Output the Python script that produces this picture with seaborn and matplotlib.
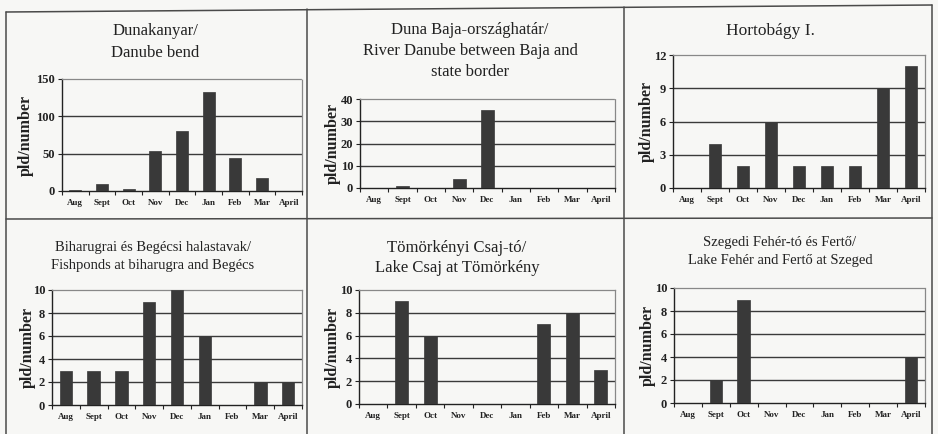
import matplotlib
matplotlib.use("Agg")
import matplotlib.pyplot as plt
from matplotlib.lines import Line2D
from matplotlib.ticker import FixedLocator, NullFormatter
import seaborn as sns
import pandas as pd

months = ["Aug", "Sept", "Oct", "Nov", "Dec", "Jan", "Feb", "Mar", "April"]

dunakanyar = [2, 10, 3, 54, 81, 132, 44, 17, 0]
duna_baja = [0, 1, 0, 4, 35, 0, 0, 0, 0]
hortobagy = [0, 4, 2, 6, 2, 2, 2, 9, 11]
biharugra = [3, 3, 3, 9, 10, 6, 0, 2, 2]
tomorkeny = [0, 9, 6, 0, 0, 0, 7, 8, 3]
szeged = [0, 2, 9, 0, 0, 0, 0, 0, 4]

titles = [
    "Dunakanyar/\nDanube bend",
    "Duna Baja-országhatár/\nRiver Danube between Baja and\nstate border",
    "Hortobágy I.",
    "Biharugrai és Begécsi halastavak/\nFishponds at biharugra and Begécs",
    "Tömörkényi Csaj-tó/\nLake Csaj at Tömörkény",
    "Szegedi Fehér-tó és Fertő/\nLake Fehér and Fertő at Szeged",
]
series = [dunakanyar, duna_baja, hortobagy, biharugra, tomorkeny, szeged]
y_ticks = [
    [0, 50, 100, 150],
    [0, 10, 20, 30, 40],
    [0, 3, 6, 9, 12],
    [0, 2, 4, 6, 8, 10],
    [0, 2, 4, 6, 8, 10],
    [0, 2, 4, 6, 8, 10],
]

sns.set_theme(style="white")
plt.rcParams["font.family"] = ["Liberation Serif", "DejaVu Serif"]

W, H = 938, 434
paper = "#f7f7f5"
fig = plt.figure(figsize=(W / 100, H / 100), dpi=100, facecolor=paper)

# axes boxes in pixels: left, top, right, bottom
boxes = [
    (62, 79, 302, 191),
    (360, 99, 615, 188),
    (673, 55, 925, 188),
    (52, 290, 302, 405),
    (359, 290, 615, 404),
    (674, 288, 925, 403),
]
# title anchor (center x, top y), font size, line spacing
title_pos = [
    (155, 23, 12, 1.5),
    (470, 22, 12, 1.4),
    (770, 23, 12.5, 1.4),
    (153, 241, 10.5, 1.45),
    (457, 240, 12, 1.35),
    (780, 236, 10.5, 1.5),
]
ylabel_x = [26, 333, 647, 28, 333, 648]

bar_color = "#393939"
grid_color = "#3a3a3a"

for i, (vals, ttl, yt) in enumerate(zip(series, titles, y_ticks)):
    l, t, r, b = boxes[i]
    ax = fig.add_axes([l / W, 1 - b / H, (r - l) / W, (b - t) / H])
    ax.set_facecolor(paper)
    df = pd.DataFrame({"month": months, "count": vals})
    sns.barplot(data=df, x="month", y="count", order=months, color=bar_color,
                width=0.45, saturation=1, edgecolor=bar_color, linewidth=0.5,
                ax=ax, zorder=3)
    ax.set_xlim(-0.5, len(months) - 0.5)
    ax.set_ylim(yt[0], yt[-1])
    ax.set_yticks(yt)
    ax.set_yticklabels([str(v) for v in yt], fontsize=9, fontweight="bold",
                       color="#222222")
    ax.set_xticks(range(len(months)))
    ax.set_xticklabels(months, fontsize=6.5, fontweight="bold", color="#222222")
    ax.xaxis.set_minor_locator(FixedLocator([k - 0.5 for k in range(len(months) + 1)]))
    ax.xaxis.set_minor_formatter(NullFormatter())
    ax.tick_params(axis="x", which="major", length=0, pad=6)
    ax.tick_params(axis="x", which="minor", length=3, width=0.8, color="#222222",
                   direction="out", bottom=True)
    ax.tick_params(axis="y", length=3, width=0.8, color="#222222", direction="out",
                   left=True, pad=2)
    for v in yt[1:-1]:
        ax.axhline(v, color=grid_color, lw=1.0, zorder=1)
    for s in ("left", "bottom"):
        ax.spines[s].set_color("#222222")
        ax.spines[s].set_linewidth(1.0)
    for s in ("top", "right"):
        ax.spines[s].set_color("#888888")
        ax.spines[s].set_linewidth(0.9)
        ax.spines[s].set_linestyle((0, (2, 1)))
    ax.set_xlabel("")
    ax.set_ylabel("pld/number", fontsize=11.5, fontweight="bold", color="#222222")
    ax.yaxis.set_label_coords((ylabel_x[i] - l) / (r - l), 0.5, transform=ax.transAxes)
    ax.yaxis.label.set_horizontalalignment("center")
    ax.yaxis.label.set_verticalalignment("center")

    cx, ty, fs, ls = title_pos[i]
    fig.text(cx / W, 1 - ty / H, ttl, ha="center", va="top", fontsize=fs,
             linespacing=ls, color="#222222")

# panel frame lines
frame = "#4a4a4a"
def fline(x0, y0, x1, y1, lw=1.1):
    fig.add_artist(Line2D([x0 / W, x1 / W], [1 - y0 / H, 1 - y1 / H],
                          color=frame, lw=lw, transform=fig.transFigure))

fline(6, 12, 932, 5)
fline(6, 12, 6, 434)
fline(307, 9, 307, 434)
fline(624, 7, 624, 434)
fline(932, 5, 932, 434)
fline(6, 219, 932, 218)

fig.savefig("out.png", dpi=100, facecolor=paper)
